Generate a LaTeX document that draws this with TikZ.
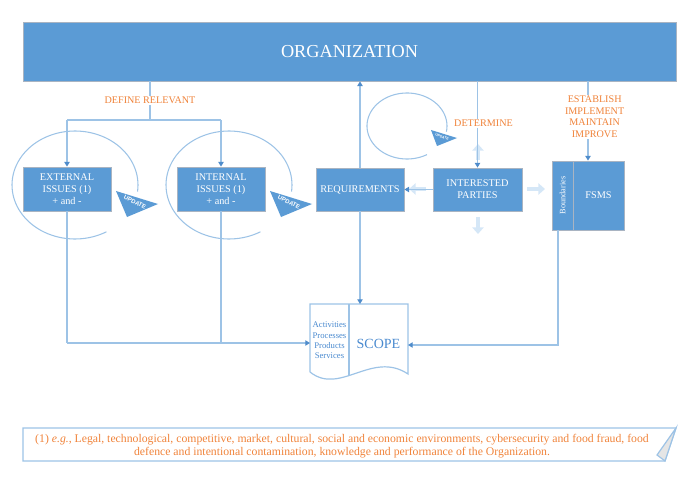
\documentclass[tikz,border=0pt]{standalone}
\usepackage{fontspec}
\setmainfont{Liberation Serif}
\newfontfamily\updfont{Liberation Sans}
\usetikzlibrary{arrows.meta}
\definecolor{boxblue}{HTML}{5B9BD5}
\definecolor{boxline}{HTML}{A9B4C2}
\definecolor{linkblue}{HTML}{9DC3E6}
\definecolor{tipblue}{HTML}{4F8CCB}
\definecolor{fadeblue}{HTML}{D5E7F7}
\definecolor{lblorange}{HTML}{F0833A}
\definecolor{scopeblue}{HTML}{4A8ACF}
\tikzset{
  box/.style={draw=boxline, line width=0.6pt, fill=boxblue, text=white, align=center,
    inner sep=0pt, minimum width=66pt, minimum height=33pt,
    font=\fontsize{7.7}{9}\selectfont},
  link/.style={draw=linkblue, line width=0.8pt},
  arr/.style={link, -{Triangle[width=4pt,length=3.5pt,color=tipblue]}},
  lbl/.style={text=lblorange, fill=white, inner sep=1pt, align=center,
    font=\fontsize{7.6}{8.75}\selectfont},
  fade/.style={draw=fadeblue, line width=3.5pt, -{Triangle[width=8.5pt,length=5pt]}},
  turn/.style={draw=linkblue, line width=0.8pt},
  upd/.style={text=white, inner sep=0pt, font=\updfont\bfseries\fontsize{4.5}{5}\selectfont},
  scopeline/.style={draw=linkblue, line width=0.9pt},
  note/.style={draw=linkblue, line width=0.9pt}
}
\begin{document}
\begin{tikzpicture}[x=0.75pt,y=-0.75pt]
  \useasboundingbox (0,0) rectangle (690,478);
  % boxes
  \node[box, minimum width=489.75pt, minimum height=44.25pt,
    font=\fontsize{13.7}{15}\selectfont] (org) at (349.5,51.5) {ORGANIZATION};
  \node[box] (ext) at (67,189) {EXTERNAL\\ ISSUES (1)\\ + and -};
  \node[box] (int) at (221,189) {INTERNAL\\ ISSUES (1)\\ + and -};
  \node[box, minimum height=32.25pt] (req) at (360,189.5) {REQUIREMENTS};
  \node[box, minimum width=66.75pt, minimum height=32.25pt] (ip) at (477.5,189.5) {INTERESTED\\ PARTIES};
  \node[box, minimum width=15.75pt, minimum height=51.75pt] (bnd) at (562.5,195.5)
    {\rotatebox{90}{\fontsize{6.2}{7}\selectfont Boundaries}};
  \node[box, minimum width=38.25pt, minimum height=51.75pt] (fsms) at (598.5,195.5) {FSMS};

  % update loops
  \draw[turn] plot[domain=-300:7, samples=90, smooth] ({75+63*cos(\x)},{185+54*sin(\x)});
  \fill[boxblue] (116,191) -- (158,204) -- (127,217) -- cycle;
  \node[upd, rotate=-28] at (135,202) {UPDATE};
  \draw[turn] plot[domain=-300:7, samples=90, smooth] ({229+63*cos(\x)},{185+54*sin(\x)});
  \fill[boxblue] (270,191) -- (312,204) -- (281,217) -- cycle;
  \node[upd, rotate=-28] at (289,202) {UPDATE};
  \draw[turn] plot[domain=-300:10, samples=90, smooth] ({407+40*cos(\x)},{126+33*sin(\x)});
  \fill[boxblue] (431,130) -- (457,138) -- (437,146) -- cycle;
  \node[upd, rotate=-20, font=\updfont\bfseries\fontsize{2.6}{3}\selectfont] at (442,137) {UPDATE};

  % scope
  \draw[scopeline] (310,372) -- (310,304) -- (408,304) -- (408,374)
    .. controls (372,350) and (340,396) .. (310,372);
  \draw[scopeline] (349,304) -- (349,376);
  \node[text=scopeblue, align=center, inner sep=0pt, font=\fontsize{6.5}{7.75}\selectfont]
    (acts) at (329.5,340.5) {Activities\\ Processes\\ Products\\ Services};
  \node[text=scopeblue, inner sep=0pt, font=\fontsize{10.5}{12}\selectfont] (scope) at (378.5,344) {SCOPE};
  \coordinate (scopeL) at (310,343);
  \coordinate (scopeR) at (408,345);
  \coordinate (scopeT) at (360,304);

  % faded arrows round the interested parties
  \draw[fade] (478,160) -- (478,144);
  \draw[fade] (478,217) -- (478,234);
  \draw[fade] (527,189) -- (545,189);
  \draw[fade] (426,189) -- (409,189);

  % connectors
  \coordinate (dr) at (150,120);
  \draw[link] (org.south -| dr) -- node[lbl] {DEFINE RELEVANT} (dr);
  \draw[link] (ext.north |- dr) -- (int.north |- dr);
  \draw[arr] (ext.north |- dr) -- (ext.north);
  \draw[arr] (int.north |- dr) -- (int.north);
  \coordinate (low) at (67,343);
  \draw[link] (ext.south) -- (low);
  \draw[link] (int.south) -- (int.south |- low);
  \draw[arr] (low) -- (scopeL);
  \draw[arr] (req.north) -- (req.north |- org.south);
  \draw[arr] (req.south) -- (scopeT);
  \draw[arr] (ip.north |- org.south) -- node[lbl, xshift=4.5pt, pos=0.49] {DETERMINE} (ip.north);
  \draw[arr] (ip.west) -- (req.east);
  \coordinate (est) at (588,81);
  \draw[arr] (est) -- node[lbl, xshift=5pt, pos=0.45] {ESTABLISH\\ IMPLEMENT\\ MAINTAIN\\ IMPROVE} (est |- fsms.north);
  \coordinate (bndout) at (558,230);
  \draw[arr] (bndout) -- (bndout |- scopeR) -- (scopeR);

  % footnote
  \draw[note] (23,428) -- (676,428) -- (665,461) -- (23,461) -- cycle;
  \filldraw[fill=gray!20, draw=linkblue, line width=0.9pt] (676,428) -- (657,455) -- (665,461) -- cycle;
  \node[text=lblorange, align=center, inner sep=0pt, font=\fontsize{8.8}{9.75}\selectfont] (note) at (342,446)
    {(1) \textit{e.g.}, Legal, technological, competitive, market, cultural, social and economic environments, cybersecurity and food fraud, food\\
     defence and intentional contamination, knowledge and performance of the Organization.};
\end{tikzpicture}
\end{document}
